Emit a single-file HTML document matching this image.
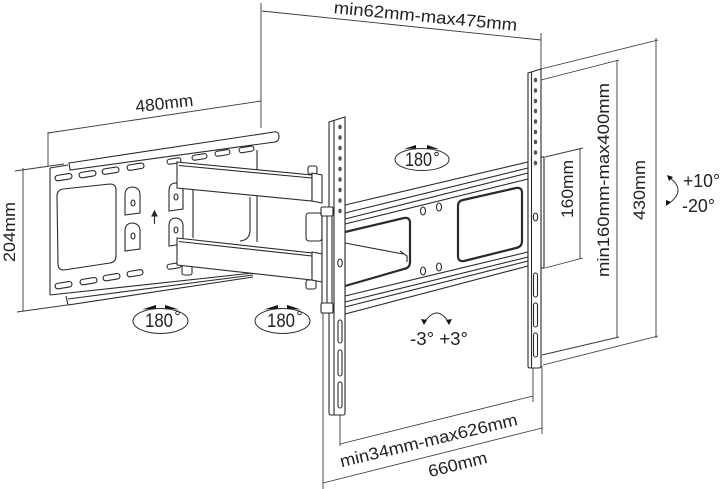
<!DOCTYPE html>
<html><head><meta charset="utf-8">
<style>
html,body{margin:0;padding:0;background:#fff;}
svg{display:block;}
text{font-family:"Liberation Sans",Arial,sans-serif;fill:#222;}
</style></head><body>
<svg width="720" height="489" viewBox="0 0 720 489" xmlns="http://www.w3.org/2000/svg">

<!-- ===== dimension lines ===== -->
<g fill="none" stroke="#3a3a3a" stroke-width="0.9">
  <!-- top min62-max475 -->
  <line x1="261" y1="3" x2="261" y2="128"/>
  <line x1="262" y1="11" x2="541" y2="40"/>
  <line x1="541" y1="33" x2="541" y2="70"/>
  <!-- 480 -->
  <line x1="48" y1="133" x2="261" y2="101"/>
  <line x1="48" y1="132" x2="48" y2="166"/>
  <!-- 204 -->
  <line x1="23" y1="168" x2="23" y2="311"/>
  <line x1="15" y1="171" x2="64" y2="164"/>
  <line x1="17" y1="312" x2="67" y2="305"/>
  <!-- 160 -->
  <line x1="580" y1="148" x2="580" y2="259"/>
  <line x1="545" y1="157" x2="583" y2="148"/>
  <line x1="545" y1="268" x2="583" y2="258"/>
  <!-- min160-max400 -->
  <line x1="617" y1="60" x2="617" y2="338"/>
  <line x1="541" y1="80" x2="619" y2="60"/>
  <line x1="542" y1="355" x2="619" y2="337"/>
  <!-- 430 -->
  <line x1="656" y1="38" x2="656" y2="338"/>
  <line x1="541" y1="69" x2="658" y2="40"/>
  <line x1="543" y1="365" x2="658" y2="336"/>
  <!-- bottom dims -->
  <line x1="323" y1="313" x2="323" y2="489"/>
  <line x1="340" y1="413" x2="340" y2="446"/>
  <line x1="340" y1="444" x2="533" y2="396"/>
  <line x1="533" y1="366" x2="533" y2="402"/>
  <line x1="542" y1="366" x2="542" y2="434"/>
  <line x1="323" y1="483" x2="542" y2="428"/>
</g>

<!-- ===== wall plate ===== -->
<g fill="none" stroke="#2a2a2a" stroke-width="1.1">
  <line x1="50" y1="168" x2="50" y2="295"/>
  <line x1="50" y1="168" x2="68" y2="165"/>
  <path d="M69,163 L274,132 Q279,131 279,137 Q279,141 275,142 L70,170 Z" fill="#fff"/>
  <line x1="50" y1="295" x2="253" y2="273"/>
  <path d="M66,296 L68,305 L253,277"/>
  <line x1="68" y1="299" x2="253" y2="275"/>
  <line x1="257" y1="150" x2="257" y2="242"/>
  <!-- big cutout -->
  <path d="M57,196 Q57,190 63,189 L110,184 Q116,184 116,190 L116,256 Q116,262 110,263 L64,270 Q58,270 58,264 Z"/>
  <!-- keyholes -->
  <path d="M125,215 L125,195 Q125,187 133,187 Q140,188 140,195 L140,213 Z"/>
  <ellipse cx="133" cy="203" rx="2" ry="3"/>
  <path d="M125,251 L125,231 Q125,223 133,223 Q140,224 140,231 L140,249 Z"/>
  <ellipse cx="133" cy="236" rx="2" ry="3"/>
  <path d="M169,211 L169,191 Q169,183 176,183 Q183,184 183,191 L183,209 Z"/>
  <ellipse cx="176" cy="197" rx="2" ry="3"/>
  <path d="M169,246 L169,226 Q169,218 176,218 Q183,219 183,226 L183,244 Z"/>
  <ellipse cx="176" cy="230" rx="2" ry="3"/>
  <!-- arrow -->
  <line x1="154.5" y1="214" x2="154.5" y2="224"/>
  <path d="M152,216 L154.5,211 L157,216 Z" fill="#2a2a2a"/>
  <!-- slots -->
  <g transform="rotate(-9 63 177)"><rect x="55" y="174.5" width="17" height="5.5" rx="2.7"/></g>
  <g transform="rotate(-9 87 174)"><rect x="79" y="171.5" width="17" height="5.5" rx="2.7"/></g>
  <g transform="rotate(-9 110 170.5)"><rect x="102" y="168" width="17" height="5.5" rx="2.7"/></g>
  <g transform="rotate(-9 135 166.5)"><rect x="127" y="164" width="17" height="5.5" rx="2.7"/></g>
  <g transform="rotate(-9 174 161)"><rect x="167" y="158.5" width="14" height="5" rx="2.5"/></g>
  <g transform="rotate(-9 199 157)"><rect x="192" y="154.5" width="15" height="5" rx="2.5"/></g>
  <g transform="rotate(-9 222 153)"><rect x="215" y="150.5" width="15" height="5" rx="2.5"/></g>
  <g transform="rotate(-9 246 149.5)"><rect x="239" y="147" width="15" height="5" rx="2.5"/></g>
  <g transform="rotate(-9 63 285)"><rect x="55" y="282.5" width="17" height="5.5" rx="2.7"/></g>
  <g transform="rotate(-9 88 281)"><rect x="80" y="278.5" width="17" height="5.5" rx="2.7"/></g>
  <g transform="rotate(-9 111 277)"><rect x="103" y="274.5" width="17" height="5.5" rx="2.7"/></g>
  <g transform="rotate(-9 135 273)"><rect x="127" y="270.5" width="16" height="5.5" rx="2.7"/></g>
  <g transform="rotate(-9 174 266)"><rect x="167" y="263.5" width="14" height="5" rx="2.5"/></g>
  <!-- panel between arms -->
  <line x1="193" y1="188" x2="193" y2="238"/>
  <path d="M250,197 L250,230 Q250,240 240,241"/>
</g>

<!-- ===== arms ===== -->
<g fill="#fff" stroke="#2a2a2a" stroke-width="1.1">
  <rect x="308" y="166" width="9" height="8" rx="2"/>
  <polygon points="177,162 312,175 312,201 177,188"/>
  <line x1="179" y1="165.5" x2="312" y2="178"/>
  <polygon points="312,173 322,175 322,203 312,201"/>
  <rect x="306" y="213" width="16" height="28" rx="3"/>
  <rect x="182" y="265" width="10" height="10" rx="2"/>
  <rect x="306" y="280" width="10" height="9" rx="2"/>
  <polygon points="177,238 312,253 312,280 177,265"/>
  <line x1="179" y1="241.5" x2="312" y2="256"/>
  <polygon points="312,252 322,254 322,282 312,280"/>
</g>

<!-- ===== TV crossbar ===== -->
<g fill="none" stroke="#2a2a2a" stroke-width="1.1">
  <polygon points="345,205 528,162 528,266 345,314" fill="#fff"/>
  <line x1="345" y1="213" x2="528" y2="168"/>
  <line x1="345" y1="219" x2="528" y2="173"/>
  <line x1="345" y1="224" x2="528" y2="179"/>
  <line x1="345" y1="296" x2="528" y2="252"/>
  <line x1="345" y1="302" x2="528" y2="257"/>
  <line x1="345" y1="307" x2="528" y2="261"/>
  <path d="M345,232 L404,218 Q410,217 410,223 L410,262 Q410,268 404,269 L345,286" stroke-width="2.2"/>
  <line x1="345" y1="243" x2="403" y2="254"/>
  <path d="M400,251 L407,256 L407,262"/>
  <path d="M463,200 L516,188 Q522,187 522,193 L522,241 Q522,247 516,248 L464,261 Q458,262 458,256 L458,206 Q458,201 463,200 Z" stroke-width="2.2"/>
  <ellipse cx="423" cy="211" rx="2.5" ry="4"/>
  <ellipse cx="439" cy="207" rx="2.5" ry="4"/>
  <ellipse cx="423" cy="271" rx="2.5" ry="4"/>
  <ellipse cx="439" cy="267" rx="2.5" ry="4"/>
</g>

<!-- ===== left vertical bar ===== -->
<g fill="#fff" stroke="#2a2a2a" stroke-width="1.1">
  <path d="M329,122 L345,117 L345,413 Q345,415 343,415 L331,415 Q329,415 329,413 Z"/>
  <line x1="334" y1="121" x2="334" y2="415"/>
  <g fill="#555" stroke="none">
    <ellipse cx="340" cy="127" rx="1.7" ry="2.3"/>
    <ellipse cx="340" cy="137.5" rx="1.7" ry="2.3"/>
    <ellipse cx="340" cy="148" rx="1.7" ry="2.3"/>
    <ellipse cx="340" cy="158.5" rx="1.7" ry="2.3"/>
    <ellipse cx="340" cy="169" rx="1.7" ry="2.3"/>
    <ellipse cx="340" cy="179.5" rx="1.7" ry="2.3"/>
    <ellipse cx="340" cy="190" rx="1.7" ry="2.3"/>
    <ellipse cx="340" cy="200.5" rx="1.7" ry="2.3"/>
    <ellipse cx="340" cy="211" rx="1.7" ry="2.3"/>
  </g>
  <ellipse cx="340" cy="263" rx="2.2" ry="4"/>
  <rect x="338" y="320" width="4" height="23" rx="2"/>
  <rect x="338" y="350" width="4" height="26" rx="2"/>
  <rect x="338" y="382" width="4" height="26" rx="2"/>
  <!-- joint bar -->
  <rect x="322" y="210" width="10" height="103"/>
  <line x1="327" y1="210" x2="327" y2="313"/>
  <rect x="321" y="207" width="12" height="9" rx="1.5"/>
  <rect x="321" y="303" width="12" height="10" rx="1.5"/>
</g>

<!-- ===== right vertical bar ===== -->
<g fill="#fff" stroke="#2a2a2a" stroke-width="1.1">
  <rect x="541" y="157" width="3" height="111"/>
  <path d="M528,73 L541,69 L541,366 Q541,368 539,368 L530,368 Q528,368 528,366 Z"/>
  <line x1="531.5" y1="72" x2="531.5" y2="368"/>
  <g fill="#555" stroke="none">
    <ellipse cx="535.5" cy="80" rx="1.7" ry="2.3"/>
    <ellipse cx="535.5" cy="90.5" rx="1.7" ry="2.3"/>
    <ellipse cx="535.5" cy="101" rx="1.7" ry="2.3"/>
    <ellipse cx="535.5" cy="111" rx="1.7" ry="2.3"/>
    <ellipse cx="535.5" cy="121.5" rx="1.7" ry="2.3"/>
    <ellipse cx="535.5" cy="132" rx="1.7" ry="2.3"/>
    <ellipse cx="535.5" cy="142" rx="1.7" ry="2.3"/>
    <ellipse cx="535.5" cy="152.5" rx="1.7" ry="2.3"/>
    <ellipse cx="535.5" cy="163" rx="1.7" ry="2.3"/>
  </g>
  <ellipse cx="535.5" cy="217" rx="2.2" ry="4"/>
  <rect x="533.5" y="273" width="4" height="24" rx="2"/>
  <rect x="533.5" y="303" width="4" height="24" rx="2"/>
  <rect x="533.5" y="333" width="4" height="24" rx="2"/>
</g>

<!-- ===== rotation symbols ===== -->
<g fill="none" stroke="#2a2a2a" stroke-width="1">
  <ellipse cx="160.5" cy="321" rx="27.5" ry="12.5"/>
  <ellipse cx="282.5" cy="321" rx="27.5" ry="12.5"/>
  <ellipse cx="422" cy="159.5" rx="27" ry="11"/>
  <circle cx="177.5" cy="313" r="1.8"/>
  <circle cx="299.5" cy="313" r="1.8"/>
  <circle cx="436.5" cy="154" r="1.8"/>
  <path d="M424,323 Q437,303 449,323"/>
  <path d="M670,178 Q687,191 668,204"/>
</g>
<g fill="#111" stroke="none">
  <polygon points="142,309.5 156,305 156,308.5"/>
  <polygon points="165,305 179,309.5 165,308.5"/>
  <polygon points="264,309.5 278,305 278,308.5"/>
  <polygon points="287,305 301,309.5 287,308.5"/>
  <polygon points="404,149 416,145 416,148.5"/>
  <polygon points="427,145 439,149 427,148.5"/>
  <polygon points="421,319 427,320 424,325"/>
  <polygon points="446,320 452,319 449,325"/>
  <polygon points="667,175 673,177 669,181"/>
  <polygon points="666,200 671,202 666,206"/>
</g>

<!-- ===== text ===== -->
<g font-size="17">
  <text x="425" y="22" text-anchor="middle" textLength="184" lengthAdjust="spacingAndGlyphs" transform="rotate(5.5 425 22)">min62mm-max475mm</text>
  <text x="165" y="109" text-anchor="middle" textLength="58" lengthAdjust="spacingAndGlyphs" transform="rotate(-6.5 165 109)">480mm</text>
  <text x="15" y="232" text-anchor="middle" textLength="60" lengthAdjust="spacingAndGlyphs" transform="rotate(-90 15 232)">204mm</text>
  <text x="573" y="189" text-anchor="middle" textLength="58" lengthAdjust="spacingAndGlyphs" transform="rotate(-90 573 189)">160mm</text>
  <text x="609" y="180" text-anchor="middle" textLength="194" lengthAdjust="spacingAndGlyphs" transform="rotate(-90 609 180)">min160mm-max400mm</text>
  <text x="645" y="190" text-anchor="middle" textLength="60" lengthAdjust="spacingAndGlyphs" transform="rotate(-90 645 190)">430mm</text>
  <text x="430" y="446" text-anchor="middle" textLength="182" lengthAdjust="spacingAndGlyphs" transform="rotate(-13.5 430 446)">min34mm-max626mm</text>
  <text x="459" y="470" text-anchor="middle" textLength="60" lengthAdjust="spacingAndGlyphs" transform="rotate(-14 459 470)">660mm</text>
</g>
<g font-size="19">
  <text x="159" y="327" text-anchor="middle" textLength="28" lengthAdjust="spacingAndGlyphs">180</text>
  <text x="281" y="327" text-anchor="middle" textLength="28" lengthAdjust="spacingAndGlyphs">180</text>
  <text x="418.5" y="166" text-anchor="middle" textLength="27" lengthAdjust="spacingAndGlyphs">180</text>
</g>
<g font-size="18">
  <text x="439" y="345" text-anchor="middle" textLength="58" lengthAdjust="spacingAndGlyphs">-3° +3°</text>
  <text x="683" y="187" textLength="37" lengthAdjust="spacingAndGlyphs">+10°</text>
  <text x="682" y="212" textLength="33" lengthAdjust="spacingAndGlyphs">-20°</text>
</g>
</svg>
</body></html>
